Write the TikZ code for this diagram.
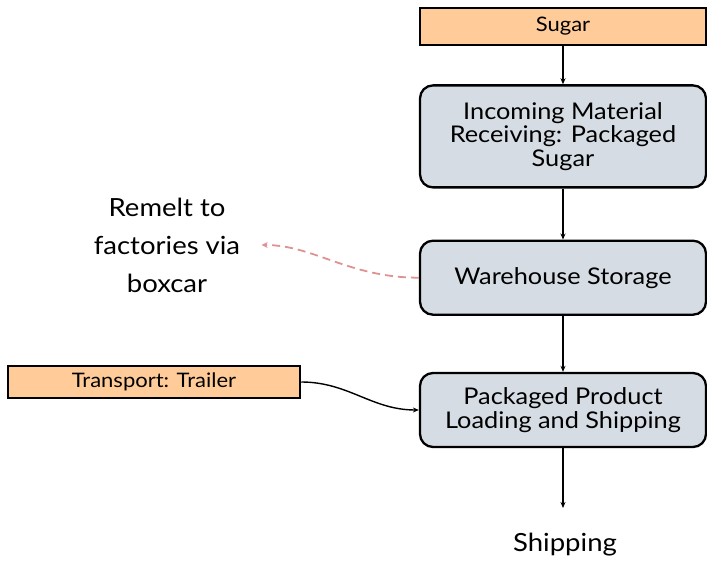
\documentclass[tikz,border=0pt]{standalone}
\usepackage{fontspec}
\setmainfont{Lato}[FakeStretch=1.1]
\usetikzlibrary{positioning,arrows.meta}

\definecolor{inputfill}{RGB}{255,204,153}
\definecolor{stepfill}{RGB}{214,220,228}
\definecolor{remeltred}{RGB}{222,146,146}

\tikzset{
  inputbox/.style={draw, line width=2.5pt, fill=inputfill, minimum width=286pt, font=\fontsize{20}{23}\selectfont},
  stepbox/.style={draw, line width=2.3pt, fill=stepfill, rounded corners=13pt, minimum width=286pt, align=center, font=\fontsize{23}{23.5}\selectfont},
  flow/.style={line width=1.4pt, -{Stealth[length=6pt,width=5pt]}},
  outtext/.style={align=center, font=\fontsize{25}{38}\selectfont}
}

\begin{document}
\begin{tikzpicture}[x=1pt, y=1pt]
  \useasboundingbox (0,0) rectangle (707,-561);
  \node[inputbox, minimum height=37pt] (sugar) at (563,-26.5) {Sugar};
  \node[stepbox, minimum height=102pt, below=38pt of sugar] (incoming) {Incoming Material\\Receiving: Packaged\\Sugar};
  \node[stepbox, minimum height=74pt, below=51pt of incoming] (warehouse) {Warehouse Storage};
  \node[stepbox, minimum height=74pt, below=56pt of warehouse] (packaged) {Packaged Product\\Loading and Shipping};
  \node[font=\fontsize{25}{28}\selectfont] (shipping) at (565,-545) {Shipping};
  \node[inputbox, minimum width=292pt, minimum height=32pt] (trailer) at (154,-382) {Transport: Trailer};
  \node[outtext] (remelt) at (167,-245) {Remelt to\\factories via\\boxcar};

  % main flow
  \draw[flow] (sugar) -- (incoming);
  \draw[flow] (incoming) -- (warehouse);
  \draw[flow] (warehouse) -- (packaged);
  \draw[flow, shorten >=22pt] (packaged.south) -- (packaged.south |- shipping.north);

  % side flows
  \draw[flow] (trailer.east) to[out=0, in=180] (packaged.west);
  \draw[remeltred, line width=1.8pt, dash pattern=on 8pt off 5pt, -{Stealth[length=6pt,width=6pt]}, shorten >=18pt]
    (warehouse.west) to[out=180, in=0] (remelt.east);
\end{tikzpicture}
\end{document}
